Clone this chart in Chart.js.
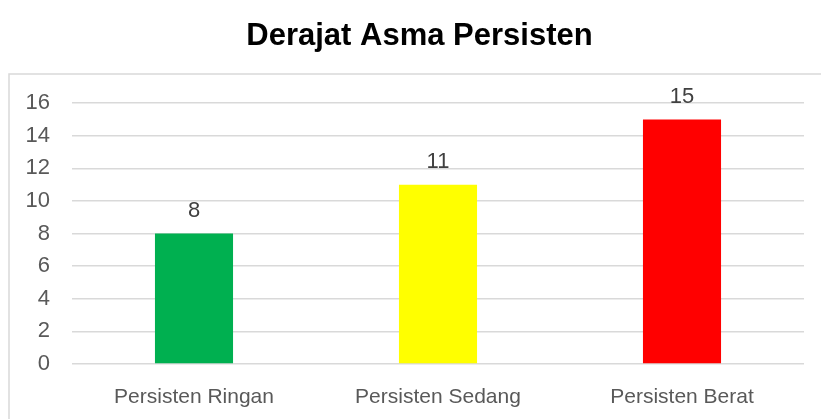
<!DOCTYPE html>
<html>
<head>
<meta charset="utf-8">
<script src="https://cdn.jsdelivr.net/npm/chart.js@4"></script>
<style>
  html, body { margin: 0; padding: 0; background: #fff; }
  #wrap { width: 821px; height: 419px; }
</style>
</head>
<body>
<div id="wrap"><canvas id="chart" width="821" height="419"></canvas></div>
<script>
const categories = ['Persisten Ringan', 'Persisten Sedang', 'Persisten Berat'];
const values = [8, 11, 15];
const barColors = ['#00B050', '#FFFF00', '#FF0000'];
const yTicks = [0, 2, 4, 6, 8, 10, 12, 14, 16];

const FONT = "'Liberation Sans', Arial, sans-serif";

// light grey frame round the plot, like the Excel chart area
const frame = {
  id: 'frame',
  beforeDraw(chart) {
    const ctx = chart.ctx;
    ctx.save();
    ctx.strokeStyle = '#d9d9d9';
    ctx.lineWidth = 1.5;
    ctx.strokeRect(9, 74, 830, 400);
    ctx.restore();
  }
};

// numbers above each bar
const valueLabels = {
  id: 'valueLabels',
  afterDatasetsDraw(chart) {
    const ctx = chart.ctx;
    const meta = chart.getDatasetMeta(0);
    ctx.save();
    ctx.font = '22px ' + FONT;
    ctx.fillStyle = '#404040';
    ctx.textAlign = 'center';
    ctx.textBaseline = 'alphabetic';
    meta.data.forEach((bar, i) => {
      ctx.fillText(String(values[i]), bar.x, bar.y - 17);
    });
    ctx.restore();
  }
};

new Chart(document.getElementById('chart'), {
  type: 'bar',
  data: {
    labels: categories,
    datasets: [{
      data: values,
      backgroundColor: barColors,
      borderWidth: 0,
      categoryPercentage: 1,
      barPercentage: 0.32
    }]
  },
  options: {
    responsive: false,
    animation: false,
    layout: { padding: { left: 25, right: 7, top: 0, bottom: 0 } },
    plugins: {
      legend: { display: false },
      tooltip: { enabled: false },
      title: {
        display: true,
        text: 'Derajat Asma Persisten',
        color: '#000',
        font: { family: FONT, size: 31, weight: 'bold' },
        padding: { top: 18, bottom: 48 }
      }
    },
    scales: {
      x: {
        afterFit: s => { s.height = 55; },
        grid: { display: false, drawTicks: false },
        border: { display: false },
        ticks: { color: '#595959', font: { family: FONT, size: 21 }, padding: 21 }
      },
      y: {
        min: 0,
        max: 16,
        afterFit: s => { s.width = 47; },
        afterBuildTicks: s => { s.ticks = yTicks.map(v => ({ value: v })); },
        grid: { color: '#d9d9d9', lineWidth: 1.5, drawTicks: false },
        border: { display: false },
        ticks: { color: '#595959', font: { family: FONT, size: 22 }, padding: 22 }
      },
      // empty spacer on the right so the title centres like the original
      yRight: {
        position: 'right',
        min: 0,
        max: 16,
        afterFit: s => { s.width = 10; },
        grid: { display: false, drawTicks: false },
        border: { display: false },
        ticks: { display: false }
      }
    }
  },
  plugins: [frame, valueLabels]
});
</script>
</body>
</html>
